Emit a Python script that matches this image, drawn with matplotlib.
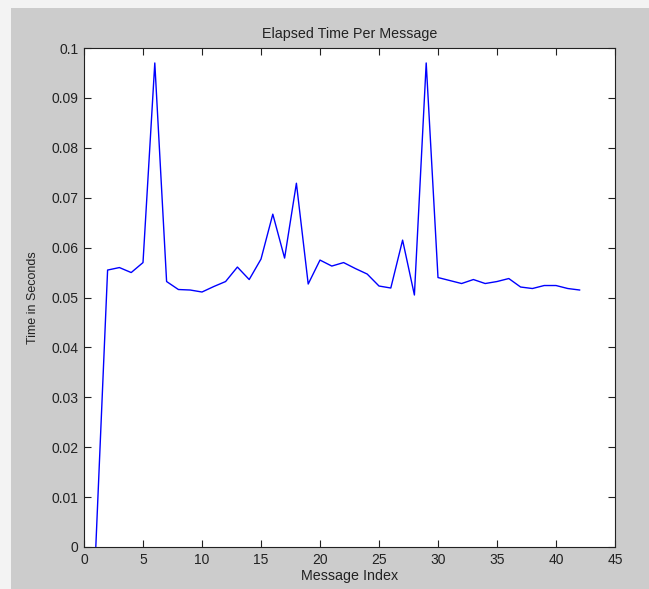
import matplotlib
matplotlib.use("Agg")
import matplotlib.pyplot as plt
from matplotlib.patches import Rectangle

# Elapsed time for each message, in seconds
message_index = list(range(1, 43))
elapsed_seconds = [
    0.0, 0.0555, 0.0560, 0.0550, 0.0570, 0.0970, 0.0532, 0.0516, 0.0515, 0.0511,
    0.0522, 0.0532, 0.0561, 0.0536, 0.0577, 0.0667, 0.0579, 0.0729, 0.0527, 0.0575,
    0.0563, 0.0570, 0.0558, 0.0547, 0.0523, 0.0519, 0.0615, 0.0505, 0.0970, 0.0540,
    0.0534, 0.0528, 0.0536, 0.0528, 0.0532, 0.0538, 0.0521, 0.0518, 0.0524, 0.0524,
    0.0518, 0.0515,
]
x_ticks = [0, 5, 10, 15, 20, 25, 30, 35, 40, 45]
y_ticks = [0, 0.01, 0.02, 0.03, 0.04, 0.05, 0.06, 0.07, 0.08, 0.09, 0.1]
y_tick_labels = ["0", "0.01", "0.02", "0.03", "0.04", "0.05", "0.06", "0.07", "0.08", "0.09", "0.1"]

plt.rcParams["font.family"] = ["Liberation Sans", "DejaVu Sans"]

W, H = 649, 589
fig = plt.figure(figsize=(W / 100, H / 100), dpi=100, facecolor="#f3f3f3")
# grey window background, kept behind the axes
fig.patches.append(Rectangle((11 / W, 0), 1 - 11 / W, 1 - 8 / H,
                             transform=fig.transFigure, facecolor="#cccccc",
                             edgecolor="none", zorder=-10))

left, right, top, bottom = 84, 615, 48, 547
ax = fig.add_axes([left / W, 1 - bottom / H, (right - left) / W, (bottom - top) / H])
ax.set_zorder(1)
ax.set_facecolor("white")
ax.plot(message_index, elapsed_seconds, color="#0000ff", linewidth=1.0)

ax.set_xlim(0, 45)
ax.set_ylim(0, 0.1)
ax.set_xticks(x_ticks)
ax.set_xticklabels([str(t) for t in x_ticks])
ax.set_yticks(y_ticks)
ax.set_yticklabels(y_tick_labels)
ax.tick_params(direction="in", length=5, width=0.8, top=True, right=True,
               labelsize=10, colors="#222222")
ax.tick_params(axis="x", pad=4)
ax.tick_params(axis="y", pad=4)
for s in ax.spines.values():
    s.set_color("#222222")
    s.set_linewidth(0.8)

ax.set_title("Elapsed Time Per Message", fontsize=10.3, color="#222222", pad=7)
ax.set_xlabel("Message Index", fontsize=10.3, color="#222222", labelpad=2)
ax.set_ylabel("Time in Seconds", fontsize=9, color="#222222", labelpad=9)

fig.savefig("out.png", dpi=100, facecolor=fig.get_facecolor())
